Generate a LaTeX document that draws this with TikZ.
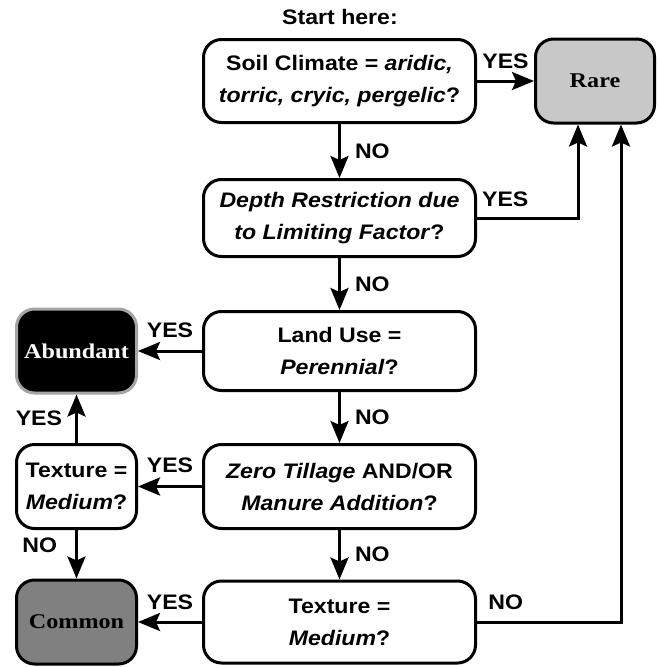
\documentclass[tikz,border=0pt]{standalone}
\usepackage{fontspec}
\setmainfont{Liberation Sans}[FakeStretch=1.1]
\newfontfamily\zielschrift{Liberation Serif}[FakeStretch=1.15]
\usetikzlibrary{arrows.meta}

\definecolor{hellgrau}{RGB}{200,200,200}
\definecolor{mittelgrau}{RGB}{128,128,128}
\definecolor{randgrau}{RGB}{165,165,165}

\tikzset{
	frage/.style={draw, line width=3pt, rounded corners=18pt, fill=white,
		minimum width=272pt, minimum height=83pt, align=center,
		font=\fontsize{21}{32}\selectfont\bfseries},
	klein/.style={frage, minimum width=120pt, minimum height=84pt},
	ergebnis/.style={draw, line width=3pt, rounded corners=18pt,
		minimum width=120pt, minimum height=84pt,
		font=\fontsize{21}{25}\zielschrift\bfseries},
	pfeil/.style={line width=3pt, -{Stealth[length=22pt, width=18pt, inset=4pt]}},
	antwort/.style={inner sep=2pt, font=\fontsize{21}{25}\selectfont\bfseries}
}

\begin{document}
\begin{tikzpicture}[x=1pt, y=-1pt]
	\useasboundingbox (0,0) rectangle (657,667);

	% Start
	\node[antwort] (start) at (340, 17) {Start here:};

	% Fragen
	\node[frage] (klima) at (339.5, 81)
		{Soil Climate = \textit{aridic,}\\\textit{torric, cryic, pergelic}?};
	\node[frage, minimum height=77pt] (tiefe) at (339.5, 218)
		{\textit{Depth Restriction due}\\\textit{to Limiting Factor}?};
	\node[frage, minimum height=79pt] (nutzung) at (339.5, 351)
		{Land Use =\\\textit{Perennial}?};
	\node[frage, minimum height=84pt] (bearbeitung) at (339.5, 486.5)
		{\textit{Zero Tillage} AND/OR\\\textit{Manure Addition}?};
	\node[frage, minimum height=82pt] (textur) at (339.5, 622)
		{Texture =\\\textit{Medium}?};
	\node[klein] (texturlinks) at (76.5, 486.5) {Texture =\\\textit{Medium}?};

	% Ergebnisse
	\node[ergebnis, fill=hellgrau, minimum width=119pt] (rare) at (595, 81) {Rare};
	\node[ergebnis, fill=black, draw=randgrau, text=white] (abundant) at (76.5, 351)
		{Abundant};
	\node[ergebnis, fill=mittelgrau] (common) at (76.5, 622) {Common};

	% Pfeile
	\draw[pfeil] (klima) -- node[antwort, above=9pt] {YES} (rare);
	\draw[pfeil] (klima) -- node[antwort, right=12pt] {NO} (tiefe);
	\draw[pfeil] (tiefe.east) -| node[antwort, pos=0.14, above=8pt] {YES}
		([xshift=-17pt]rare.south);
	\draw[pfeil] (tiefe) -- node[antwort, right=12pt] {NO} (nutzung);
	\draw[pfeil] (nutzung) -- node[antwort, above=10pt] {YES} (abundant);
	\draw[pfeil] (nutzung) -- node[antwort, right=12pt] {NO} (bearbeitung);
	\draw[pfeil] (bearbeitung) -- node[antwort, above=10pt] {YES} (texturlinks);
	\draw[pfeil] (texturlinks) -- node[antwort, left=11pt] {YES} (abundant);
	\draw[pfeil] (texturlinks) -- node[antwort, left=16pt, yshift=9pt] {NO} (common);
	\draw[pfeil] (bearbeitung) -- node[antwort, right=12pt] {NO} (textur);
	\draw[pfeil] (textur) -- node[antwort, above=9pt] {YES} (common);
	\draw[pfeil] (textur.east) -| node[antwort, pos=0.1, above=9pt] {NO}
		([xshift=26pt]rare.south);
\end{tikzpicture}
\end{document}
